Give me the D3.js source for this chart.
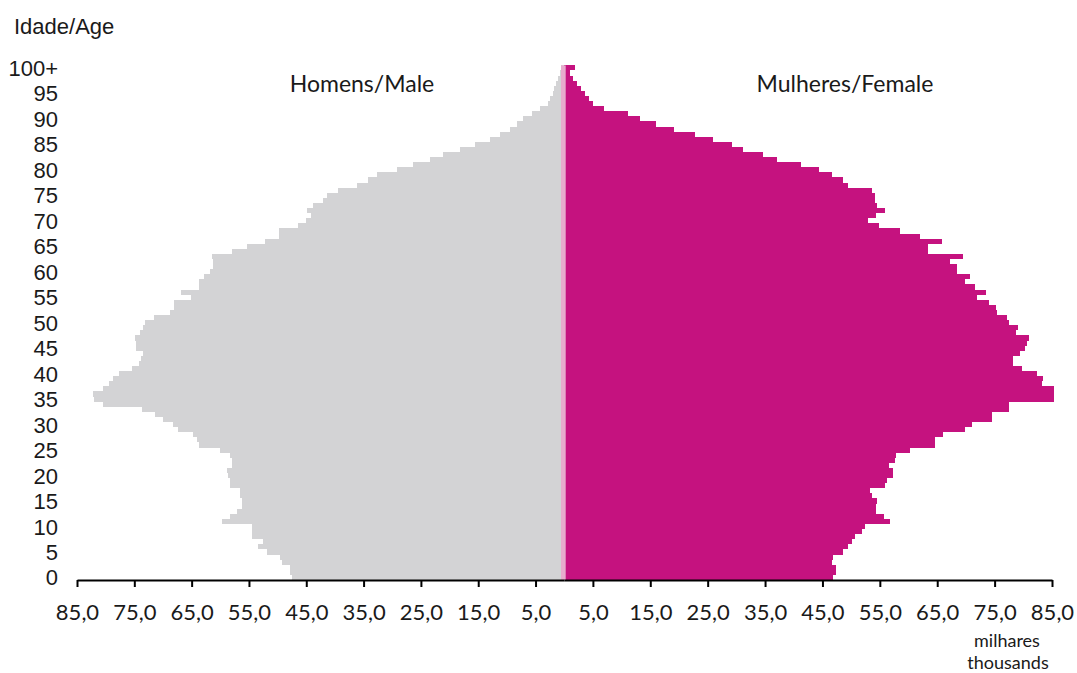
<!DOCTYPE html>
<html lang="pt">
<head>
<meta charset="UTF-8">
<title>Pirâmide etária</title>
<script src="https://d3js.org/d3.v7.min.js"></script>
<style>
    body { margin: 0; background: #fff; }
    svg { display: block; }
    .lbl { font-family: "Liberation Sans", Arial, sans-serif; fill: #1a1a1a; }
    .cal { font-family: Lato, "Open Sans", sans-serif; fill: #1a1a1a; }
</style>
</head>
<body>
<svg id="chart" width="1077" height="673"></svg>
<script>
// ages 0..100 (100 = 100+), values in thousands
const ages = d3.range(0, 101);
const male = [
    47.5, 47.9, 47.9, 49.3, 49.6, 51.9, 53.4, 52.6, 54.5, 54.5,
    54.5, 59.7, 58.3, 57.0, 56.3, 56.3, 56.6, 56.6, 58.3, 58.3,
    58.7, 58.9, 58.0, 58.0, 58.3, 60.0, 63.7, 64.0, 64.8, 67.4,
    68.3, 70.0, 71.4, 73.7, 80.5, 82.1, 82.2, 80.5, 79.5, 78.7,
    77.7, 75.4, 74.2, 73.8, 73.5, 74.7, 74.7, 74.9, 74.0, 73.5,
    73.1, 71.6, 68.8, 68.1, 68.1, 65.1, 66.9, 63.7, 63.7, 62.9,
    61.8, 61.3, 61.3, 61.5, 58.0, 55.3, 52.2, 49.8, 49.8, 46.5,
    45.0, 44.2, 44.9, 43.9, 42.1, 41.4, 39.5, 36.2, 34.2, 32.7,
    29.2, 26.4, 23.5, 21.1, 18.2, 15.6, 13.0, 11.2, 9.5, 8.3,
    7.2, 5.7, 4.3, 2.8, 2.4, 2.0, 1.7, 1.4, 1.1, 0.8,
    0.6
];
const female = [
    46.8, 47.3, 47.3, 46.6, 46.8, 48.6, 49.5, 50.1, 50.7, 51.9,
    52.4, 56.8, 55.7, 54.3, 54.3, 54.5, 53.6, 53.3, 55.9, 56.2,
    57.3, 57.3, 56.6, 57.6, 57.9, 60.2, 64.6, 64.6, 66.0, 69.8,
    71.0, 74.5, 74.5, 77.5, 77.5, 85.3, 85.3, 85.3, 83.2, 83.4,
    82.4, 79.7, 78.2, 78.2, 79.4, 80.3, 80.6, 81.0, 78.7, 79.1,
    77.5, 77.2, 75.4, 75.2, 74.0, 71.9, 73.5, 71.6, 69.8, 70.7,
    68.4, 68.4, 67.2, 69.5, 63.4, 63.4, 65.8, 62.0, 58.5, 54.8,
    52.9, 54.3, 55.9, 54.5, 54.1, 54.1, 53.6, 49.4, 48.6, 46.6,
    44.4, 41.2, 37.0, 34.7, 31.2, 29.3, 26.0, 22.8, 19.1, 16.0,
    13.2, 11.1, 6.9, 5.0, 4.3, 3.6, 3.0, 2.2, 1.6, 1.0,
    1.8
];
const tickVals = [5, 15, 25, 35, 45, 55, 65, 75, 85];
const ageTicks = d3.range(0, 101, 5);

const svg = d3.select("#chart");
const cx = 564.2;

const xL = d3.scaleLinear().domain([0, 85]).range([cx, 77]);
const xR = d3.scaleLinear().domain([0, 85]).range([cx, 1052]);
const y = d3.scaleBand().domain(ages).range([580, 65.4]).padding(0);

const fmt = d => d3.format(".1f")(d).replace(".", ",");

// bars
svg.append("g").selectAll("rect").data(ages).join("rect")
    .attr("x", d => xL(male[d]))
    .attr("y", d => y(d))
    .attr("width", d => cx - xL(male[d]))
    .attr("height", y.bandwidth())
    .attr("fill", "#d3d3d5")
    .attr("shape-rendering", "crispEdges");

svg.append("g").selectAll("rect").data(ages).join("rect")
    .attr("x", cx)
    .attr("y", d => y(d))
    .attr("width", d => xR(female[d]) - cx)
    .attr("height", y.bandwidth())
    .attr("fill", "#c5127f")
    .attr("shape-rendering", "crispEdges");

// centre strip
svg.append("rect")
    .attr("x", 561).attr("y", y(100))
    .attr("width", 4.7).attr("height", 580 - y(100))
    .attr("fill", "#e8abcd");

// x axes
function styleAxis(g) {
    g.select(".domain").attr("stroke", "#000").attr("stroke-width", 2);
    g.selectAll(".tick line").attr("stroke", "#000").attr("stroke-width", 2);
    g.selectAll(".tick text")
        .attr("class", "cal")
        .attr("y", 40).attr("dy", 0)
        .style("font-size", "22px")
        .attr("fill", "#1a1a1a");
}
svg.append("g").attr("transform", "translate(0,580)")
    .call(d3.axisBottom(xL).tickValues(tickVals).tickFormat(fmt).tickSize(7).tickSizeOuter(0))
    .call(styleAxis);
svg.append("g").attr("transform", "translate(0,580)")
    .call(d3.axisBottom(xR).tickValues(tickVals).tickFormat(fmt).tickSize(7).tickSizeOuter(0))
    .call(styleAxis);

// age labels
svg.append("g").selectAll("text").data(ageTicks).join("text")
    .attr("class", "lbl")
    .attr("x", 58)
    .attr("y", d => y(d) + y.bandwidth() / 2 + 8)
    .attr("text-anchor", "end")
    .style("font-size", "22px")
    .text(d => d === 100 ? "100+" : d);

svg.append("text").attr("class", "lbl")
    .attr("x", 14).attr("y", 34)
    .style("font-size", "22px")
    .text("Idade/Age");

svg.append("text").attr("class", "cal")
    .attr("x", 362).attr("y", 92)
    .attr("text-anchor", "middle")
    .style("font-size", "23px")
    .text("Homens/Male");

svg.append("text").attr("class", "cal")
    .attr("x", 845).attr("y", 92)
    .attr("text-anchor", "middle")
    .style("font-size", "23px")
    .text("Mulheres/Female");

svg.append("text").attr("class", "cal")
    .attr("x", 1007).attr("y", 647)
    .attr("text-anchor", "middle")
    .style("font-size", "18px")
    .text("milhares");

svg.append("text").attr("class", "cal")
    .attr("x", 1008).attr("y", 669)
    .attr("text-anchor", "middle")
    .style("font-size", "18px")
    .text("thousands");
</script>
</body>
</html>
